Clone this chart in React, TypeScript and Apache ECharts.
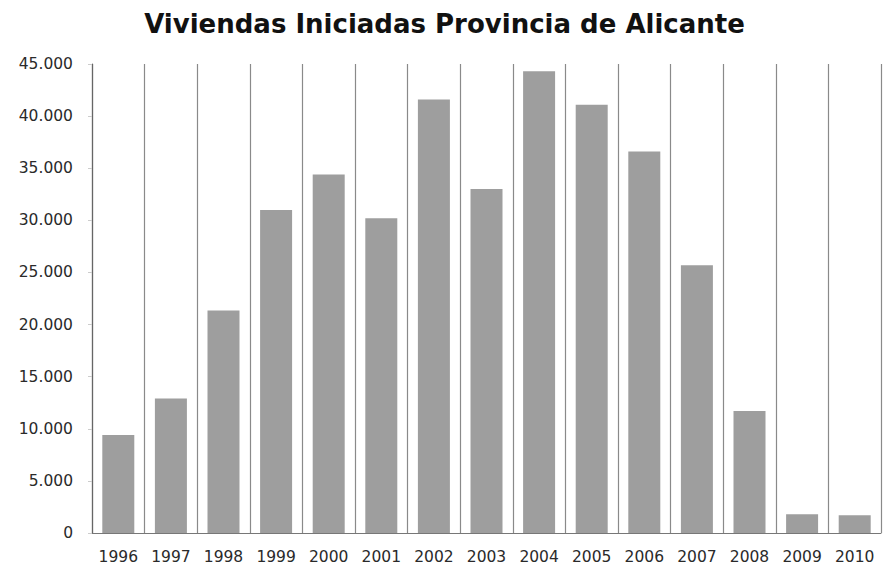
import React, { useEffect, useRef } from "react";
import * as echarts from "echarts";

const years = ["1996", "1997", "1998", "1999", "2000", "2001", "2002", "2003", "2004", "2005", "2006", "2007", "2008", "2009", "2010"];
const viviendas = [9400, 12900, 21350, 31000, 34400, 30200, 41600, 33000, 44300, 41100, 36600, 25700, 11700, 1800, 1700];

const fmt = (v: number) => String(v).replace(/\B(?=(\d{3})+(?!\d))/g, ".");

export default function App() {
  const ref = useRef<HTMLDivElement>(null);
  useEffect(() => {
    document.body.style.margin = "0";
    const chart = echarts.init(ref.current!, null, { renderer: "svg" });
    chart.setOption({
      animation: false,
      backgroundColor: "#ffffff",
      title: {
        text: "Viviendas Iniciadas Provincia de Alicante",
        left: "center",
        top: 6,
        textStyle: { fontFamily: "DejaVu Sans", fontWeight: "bold", fontSize: 26, color: "#111" },
      },
      grid: { left: 92, right: 8, top: 64, bottom: 32 },
      xAxis: {
        type: "category",
        data: years,
        axisLine: { lineStyle: { color: "#777", width: 1 } },
        axisTick: { show: false },
        axisLabel: { fontFamily: "DejaVu Sans", fontSize: 15.5, color: "#2a2a2a", margin: 16 },
        splitLine: { show: true, interval: 0, lineStyle: { color: "#8a8a8a", width: 1.2 } },
      },
      yAxis: {
        type: "value",
        min: 0,
        max: 45000,
        interval: 5000,
        axisLine: { show: true, lineStyle: { color: "#666", width: 1.2 } },
        axisTick: { show: true, length: 4, lineStyle: { color: "#ccc" } },
        axisLabel: { fontFamily: "DejaVu Sans", fontSize: 15.5, color: "#2a2a2a", margin: 19, formatter: (v: number) => fmt(v) },
        splitLine: { show: false },
      },
      series: [
        {
          type: "bar",
          data: viviendas,
          barWidth: 32,
          itemStyle: { color: "#9e9e9e" },
        },
      ],
    });
    return () => chart.dispose();
  }, []);
  return <div ref={ref} style={{ width: 889, height: 565 }} />;
}
